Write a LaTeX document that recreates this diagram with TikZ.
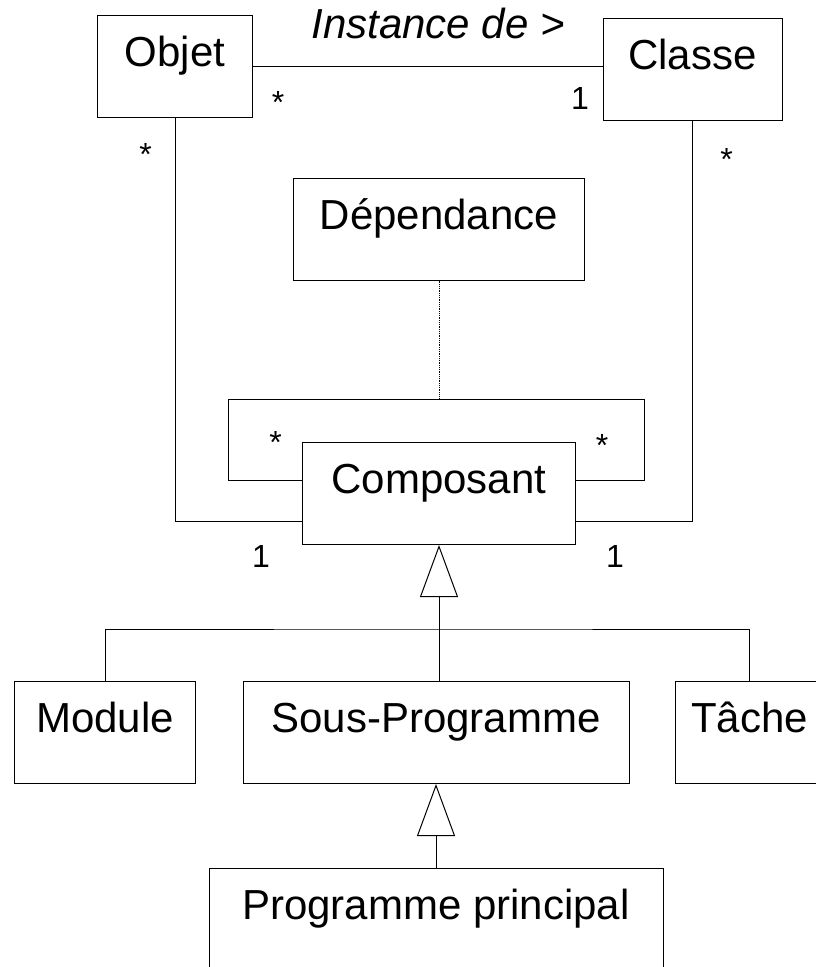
\documentclass[tikz,border=0pt]{standalone}
\usepackage{fontspec}
\setmainfont{Liberation Sans}
\usetikzlibrary{arrows.meta}

\begin{document}
\begin{tikzpicture}[
    x=1pt, y=-1pt,
    line width=1pt,
    box/.style={draw, rectangle, inner xsep=0pt, inner ysep=0pt, text height=51pt, text depth=51pt, font=\fontsize{42}{50}\selectfont},
    mult/.style={inner sep=0pt, anchor=base, font=\fontsize{32}{38}\selectfont},
    gen/.style={-{Triangle[open, length=52pt, width=38pt]}}
]
\useasboundingbox (0,0) rectangle (815,967);

\node[box, minimum width=155pt] (objet) at (175,66) {Objet};
\node[box, minimum width=179pt] (classe) at (692.5,69) {Classe};
\node[box, minimum width=291pt] (dep) at (439,229) {Dépendance};
\node[box, minimum width=273pt] (comp) at (439,493.5) {Composant};
\node[box, minimum width=181pt] (module) at (105,732.5) {Module};
\node[box, minimum width=386pt] (sousprog) at (436,732.5) {Sous-Programme};
\node[box, minimum width=149pt] (tache) at (749.5,732.5) {Tâche};
\node[box, minimum width=454pt] (progprinc) at (436,919) {Programme principal};

\coordinate (bar) at (439,629);
\coordinate (loopl) at (228,399);
\coordinate (loopr) at (644,399);
\coordinate (looptop) at (439,399);

% associations
\draw (objet.east) -- (objet.east -| classe.west);
\node[mult, font=\fontsize{42}{50}\selectfont\itshape] (instance) at (438,38) {Instance de >};
\draw (objet.south) |- ([yshift=-28pt]comp.west);
\draw (classe.south) |- ([yshift=-28pt]comp.east);
\draw ([yshift=13pt]comp.west) -| (loopl) -- (loopr) |- ([yshift=13pt]comp.east);
\draw[densely dotted, line width=0.8pt] (dep.south) -- (looptop);

% multiplicities
\node[mult] (mobjet) at (278,113) {*};
\node[mult] (mclasse) at (580,109) {1};
\node[mult] (mobjetc) at (145.5,165) {*};
\node[mult] (mclassec) at (726.5,170) {*};
\node[mult] (mloopl) at (275.5,453) {*};
\node[mult] (mloopr) at (602,456) {*};
\node[mult] (mcompl) at (261,567) {1};
\node[mult] (mcompr) at (615,567) {1};

% generalisations
\draw[gen] (bar) -- (comp.south);
\draw (module.north) |- (bar) -| (tache.north);
\draw (bar) -- (bar |- sousprog.north);
\draw[gen] (progprinc.north) -- (sousprog.south);
\end{tikzpicture}
\end{document}
